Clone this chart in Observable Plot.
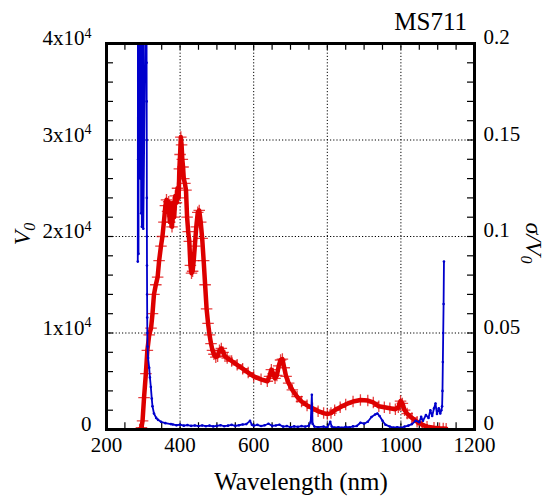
<!DOCTYPE html>
<html><head><meta charset="utf-8">
<script src="https://cdn.jsdelivr.net/npm/d3@7"></script>
<script src="https://cdn.jsdelivr.net/npm/@observablehq/plot@0.6"></script>
<style>body{margin:0;background:#fff} svg, svg text{font-family:'Liberation Serif',serif !important;}</style>
</head><body><div id="chart"></div>
<script>
// V0 (left axis) series, red
const redWavelength = [290,295,298,302,307,311,316,321,325,329,334,339,343,348,352,356,360,363,366,369,372,375,378,381,384,387,390,393,396,398,400,402,404,406,408,410,413,416,419,422,425,428,431,434,437,440,444,448,452,456,460,464,468,472,476,480,484,488,492,497,502,507,512,517,522,528,540,555,570,585,600,620,637,643,648,653,658,663,668,673,678,683,688,695,705,718,730,745,760,775,790,800,810,820,835,850,870,890,910,925,940,955,970,985,993,999,1004,1010,1017,1030,1044,1058,1071,1090,1105,1115,1123];
const redV0 = [0,200,900,3300,5800,8200,9800,10500,12000,14000,15000,15800,17500,19000,20000,21500,23200,23800,22600,23600,21500,22800,21000,23500,22000,24200,23500,25000,24000,27000,28500,30300,29500,28000,27200,26000,25500,24800,22000,20500,19500,17000,16200,16400,17500,19000,21000,22500,22700,21500,19800,17500,15000,12500,11000,9800,8900,8200,7800,7500,7600,8200,8400,8000,7600,7400,7100,6700,6300,5900,5500,5200,5000,5500,6200,5800,5300,5600,6600,7200,7300,6400,5500,4800,4100,3400,2900,2500,2200,1900,1700,1600,1700,2000,2300,2600,2900,3050,3000,2800,2400,2300,2200,2100,2300,2950,2700,2000,1650,1200,800,500,280,180,120,100,80];

// sigma/V0 (right axis) series, blue
const blueWavelength = [285,285.5,286,286.5,287,287.5,288,288.5,289,289.5,290,290.5,291,291.5,292,292.5,293,293.5,294,294.5,295,295.5,296,296.5,297,297.5,298,298.5,299,299.5,300,308,308.8,309,309.2,309.4,309.6,309.8,310,310.3,310.6,311,311.5,313,316,318,320.5,323,325,329,335,340,348,360,375,380,390,400,410,420,430,440,450,460,470,480,490,500,510,520,530,540,550,560,570,580,590,595,600,610,620,630,640,650,660,670,680,690,700,710,720,730,740,750,755,758,760,765,775,790,800,808,812,820,830,840,850,860,870,880,890,900,910,920,930,936,942,950,958,970,980,990,1000,1010,1020,1030,1040,1050,1055,1060,1068,1075,1080,1085,1090,1094,1098,1103,1107,1110,1112,1113,1114,1115,1116,1117];
const blueSigma = [0.087,0.25,0.14,0.25,0.091,0.25,0.138,0.25,0.135,0.25,0.142,0.25,0.136,0.25,0.13,0.25,0.14,0.25,0.112,0.25,0.135,0.25,0.105,0.25,0.14,0.25,0.13,0.25,0.12,0.25,0.104,0.25,0.25,0.19,0.17,0.15,0.12,0.10,0.085,0.07,0.058,0.05,0.043,0.037,0.032,0.027,0.022,0.016,0.012,0.0083,0.006,0.005,0.004,0.0033,0.0028,0.0026,0.0022,0.0025,0.002,0.0023,0.0019,0.0021,0.0018,0.0021,0.0017,0.002,0.0016,0.0019,0.0022,0.0017,0.002,0.0024,0.0019,0.0022,0.0026,0.0028,0.0045,0.0025,0.002,0.0024,0.0018,0.0022,0.003,0.0019,0.0021,0.0025,0.0015,0.0018,0.0012,0.0016,0.0014,0.0018,0.0015,0.002,0.004,0.018,0.003,0.0015,0.0012,0.0015,0.001,0.004,0.0015,0.001,0.0012,0.0009,0.0014,0.0011,0.0016,0.0018,0.0035,0.003,0.004,0.0065,0.0078,0.0083,0.007,0.0045,0.0025,0.0015,0.001,0.0012,0.0009,0.0015,0.002,0.0028,0.0045,0.0038,0.0066,0.0045,0.0075,0.006,0.01,0.007,0.011,0.0135,0.008,0.011,0.0083,0.01,0.012,0.02,0.035,0.05,0.065,0.087];

// axes
const xDomain = [200, 1200];
const yDomain = [0, 40000];
const rightDomain = [0, 0.2];
const xTicks = [200, 400, 600, 800, 1000, 1200];
const xMinorTicks = d3.range(250, 1200, 50);
const yTicks = [0, 10000, 20000, 30000, 40000];
const yMinorTicks = d3.range(2000, 40000, 2000);
const leftTickLabels = ["0", "1x10", "2x10", "3x10", "4x10"];
const leftTickExponents = ["", "4", "4", "4", "4"];
const rightTickLabels = ["0", "0.05", "0.1", "0.15", "0.2"];
const xGrid = [400, 600, 800, 1000];
const yGrid = [10000, 20000, 30000];

const scaleK = yDomain[1] / rightDomain[1];
const red = redWavelength.map((x, i) => ({x, y: redV0[i]}));
const blue = blueWavelength.map((x, i) => ({x, y: blueSigma[i] * scaleK}));

const RED = "#dd0000", BLUE = "#0000cc";
const tickLenY = 700, tickLenX = 19; // data units (~7px)
const font = "'Liberation Serif', serif";

const plot = Plot.plot({
  width: 557, height: 497,
  marginLeft: 106, marginRight: 83, marginTop: 43, marginBottom: 68,
  style: {fontFamily: font, fontSize: "21px", background: "white", color: "black"},
  x: {domain: xDomain, label: null},
  y: {domain: yDomain, label: null},
  marks: [
    Plot.gridX(xGrid, {stroke: "black", strokeOpacity: 1, strokeDasharray: "1.2,2", strokeWidth: 1}),
    Plot.gridY(yGrid, {stroke: "black", strokeOpacity: 1, strokeDasharray: "1.2,2", strokeWidth: 1}),
    // ticks, inward
    Plot.ruleX(xMinorTicks, {x: d => d, y1: 0, y2: tickLenY, stroke: "black", strokeWidth: 1.2}),
    Plot.ruleX(xMinorTicks, {x: d => d, y1: yDomain[1], y2: yDomain[1] - tickLenY, stroke: "black", strokeWidth: 1.2}),
    Plot.ruleY(yMinorTicks, {y: d => d, x1: xDomain[0], x2: xDomain[0] + tickLenX, stroke: "black", strokeWidth: 1.2}),
    Plot.ruleY(yMinorTicks, {y: d => d, x1: xDomain[1], x2: xDomain[1] - tickLenX, stroke: "black", strokeWidth: 1.2}),
    // red V0
    Plot.line(red, {x: "x", y: "y", stroke: RED, strokeWidth: 4.5, clip: true}),
    Plot.dot(red, {x: "x", y: "y", symbol: "plus", r: 3.8, stroke: RED, strokeOpacity: 0.75, strokeWidth: 1.3, clip: true}),
    // blue sigma/V0
    Plot.line(blue, {x: "x", y: "y", stroke: BLUE, strokeWidth: 1.8, clip: true}),
    Plot.dot(blue, {x: "x", y: "y", r: 1.3, fill: BLUE, stroke: null, clip: true}),
    Plot.axisX({ticks: xTicks, tickSize: 0, tickPadding: 8, tickFormat: d => String(d), label: null}),
    Plot.axisY({anchor: "left", ticks: yTicks, tickSize: 0, tickPadding: 15, dy: -5, tickFormat: d => leftTickLabels[yTicks.indexOf(d)], label: null}),
    Plot.axisY({anchor: "right", ticks: yTicks, tickSize: 0, tickPadding: 9, dy: -6, tickFormat: d => rightTickLabels[yTicks.indexOf(d)], label: null}),
    Plot.frame({stroke: "black", strokeWidth: 3})
  ]
});

const svg = d3.select(plot);
svg.attr("font-family", font);
// superscripts on left tick labels
svg.selectAll("text").each(function () {
  const t = d3.select(this);
  const s = t.text();
  const i = leftTickLabels.indexOf(s);
  if (i > 0 && leftTickExponents[i]) {
    t.append("tspan").attr("dy", "-0.55em").attr("font-size", 14).text(leftTickExponents[i]);
  }
});

svg.append("text").attr("x", 467).attr("y", 30).attr("text-anchor", "end")
  .attr("font-size", 25).attr("fill", "black").text("MS711");
svg.append("text").attr("x", 301).attr("y", 490).attr("text-anchor", "middle")
  .attr("font-size", 25).attr("fill", "black").text("Wavelength (nm)");
const vl = svg.append("text").attr("transform", "translate(30,234) rotate(-90)").attr("text-anchor", "middle")
  .attr("font-size", 24).attr("font-style", "italic").attr("fill", "black");
vl.append("tspan").text("V");
vl.append("tspan").attr("dy", "0.3em").attr("font-size", 16).text("0");
const rl = svg.append("text").attr("transform", "translate(526,243) rotate(90)").attr("text-anchor", "middle")
  .attr("font-size", 24).attr("font-style", "italic").attr("fill", "black");
rl.append("tspan").text("σ/V");
rl.append("tspan").attr("dy", "0.3em").attr("font-size", 16).text("0");

document.getElementById("chart").append(plot);
</script>
</body></html>
